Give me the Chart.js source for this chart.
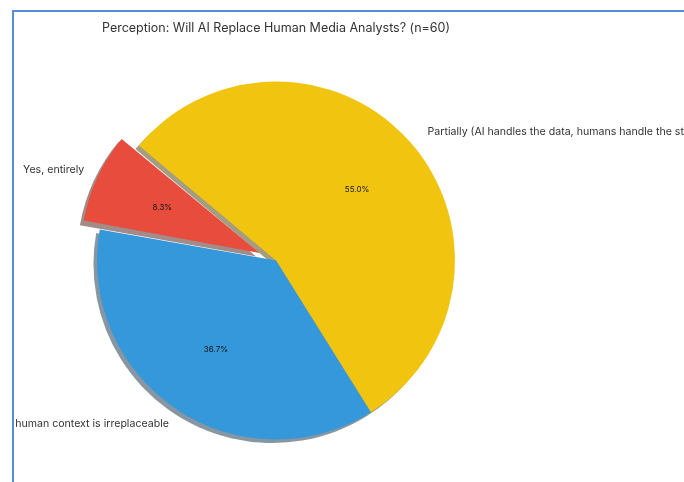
<!DOCTYPE html>
<html>
<head>
<meta charset="utf-8">
<script src="https://cdn.jsdelivr.net/npm/chart.js@4/dist/chart.umd.min.js"></script>
<style>
  body { margin: 0; background: #fff; }
  #frame { position: absolute; left: 12px; top: 10px; width: 672px; height: 472px;
           border-top: 2px solid #5b8bd6; border-left: 2px solid #5b8bd6; overflow: hidden; }
  #wrap { position: absolute; left: -14px; top: -12px; width: 684px; height: 482px; }
</style>
</head>
<body>
<div id="frame"><div id="wrap"><canvas id="chart_perception" width="684" height="482"></canvas></div></div>
<script>
var chart_title = 'Perception: Will AI Replace Human Media Analysts? (n=60)';
var answer_labels = ['Yes, entirely', 'Partially (AI handles the data, humans handle the strategy)', 'No, human context is irreplaceable'];
var answer_counts = [5, 33, 22];
var answer_colors = ['#e74c3c', '#f1c40f', '#3498db'];
var answer_explode = [72, 0, 0]; // chart.js moves an arc by offset / 4

var font_family = 'Inter, "DejaVu Sans", sans-serif';

// matplotlib-like shadow under the wedges plus outside labels and percentages
var pie_decor = {
  id: 'pie_decor',
  afterDatasetUpdate: function(chart, args) {
    // chart.js grows an exploded arc a little, keep it the same radius as the rest
    args.meta.data.forEach(function(arc, i) {
      var shift = answer_explode[i] / 4;
      var fix = 1 - Math.sin(Math.min(Math.PI, arc.circumference));
      arc.outerRadius -= shift * fix;
    });
  },
  beforeDatasetsDraw: function(chart) {
    var ctx = chart.ctx;
    var meta = chart.getDatasetMeta(0);
    ctx.save();
    meta.data.forEach(function(arc, i) {
      var p = arc.getProps(['x', 'y', 'startAngle', 'endAngle', 'outerRadius'], true);
      var shift = answer_explode[i] / 4;
      var mid = (p.startAngle + p.endAngle) / 2;
      var fix = 1 - Math.sin(Math.min(Math.PI, p.endAngle - p.startAngle));
      var cx = p.x + Math.cos(mid) * shift - 3.5;
      var cy = p.y + Math.sin(mid) * shift + 3.5;
      var c = Chart.helpers.color(answer_colors[i]).rgb;
      ctx.fillStyle = 'rgba(' + Math.round(c.r * 0.3) + ',' + Math.round(c.g * 0.3) + ',' + Math.round(c.b * 0.3) + ',0.5)';
      ctx.beginPath();
      ctx.moveTo(cx, cy);
      ctx.arc(cx, cy, p.outerRadius + shift * fix, p.startAngle, p.endAngle);
      ctx.closePath();
      ctx.fill();
    });
    ctx.restore();
  },
  afterDatasetsDraw: function(chart) {
    var ctx = chart.ctx;
    var meta = chart.getDatasetMeta(0);
    var total = answer_counts.reduce(function(a, b) { return a + b; }, 0);
    ctx.save();
    meta.data.forEach(function(arc, i) {
      var p = arc.getProps(['x', 'y', 'startAngle', 'endAngle', 'outerRadius'], true);
      var shift = answer_explode[i] / 4;
      var mid = (p.startAngle + p.endAngle) / 2;
      var cx = p.x + Math.cos(mid) * shift;
      var cy = p.y + Math.sin(mid) * shift;
      var r = chart.data.datasets[0].radius;

      ctx.fillStyle = '#151515';
      ctx.font = '8px ' + font_family;
      ctx.textAlign = 'center';
      ctx.textBaseline = 'middle';
      ctx.fillText((answer_counts[i] / total * 100).toFixed(1) + '%', cx + Math.cos(mid) * r * 0.6, cy + Math.sin(mid) * r * 0.6);

      ctx.fillStyle = '#333';
      ctx.font = '10.6px ' + font_family;
      ctx.textAlign = Math.cos(mid) >= 0 ? 'left' : 'right';
      ctx.fillText(answer_labels[i], cx + Math.cos(mid) * r * 1.1 + 3, cy + Math.sin(mid) * r * 1.1);
    });
    ctx.restore();
  }
};

var chart_perception = document.getElementById('chart_perception').getContext('2d');
new Chart(chart_perception, {
  type: 'pie',
  data: {
    labels: answer_labels,
    datasets: [{
      data: answer_counts,
      backgroundColor: answer_colors,
      borderWidth: 0,
      offset: answer_explode,
      radius: 179
    }]
  },
  options: {
    responsive: false,
    animation: false,
    rotation: 280,
    layout: { padding: { top: 10, bottom: 17, left: 80, right: 212 } },
    plugins: {
      legend: { display: false },
      tooltip: { enabled: false },
      title: {
        display: true,
        text: chart_title,
        fullSize: false,
        color: '#333',
        font: { family: font_family, size: 12.5, weight: 'normal' },
        padding: { top: 11, bottom: 20 }
      }
    }
  },
  plugins: [pie_decor]
});
</script>
</body>
</html>
